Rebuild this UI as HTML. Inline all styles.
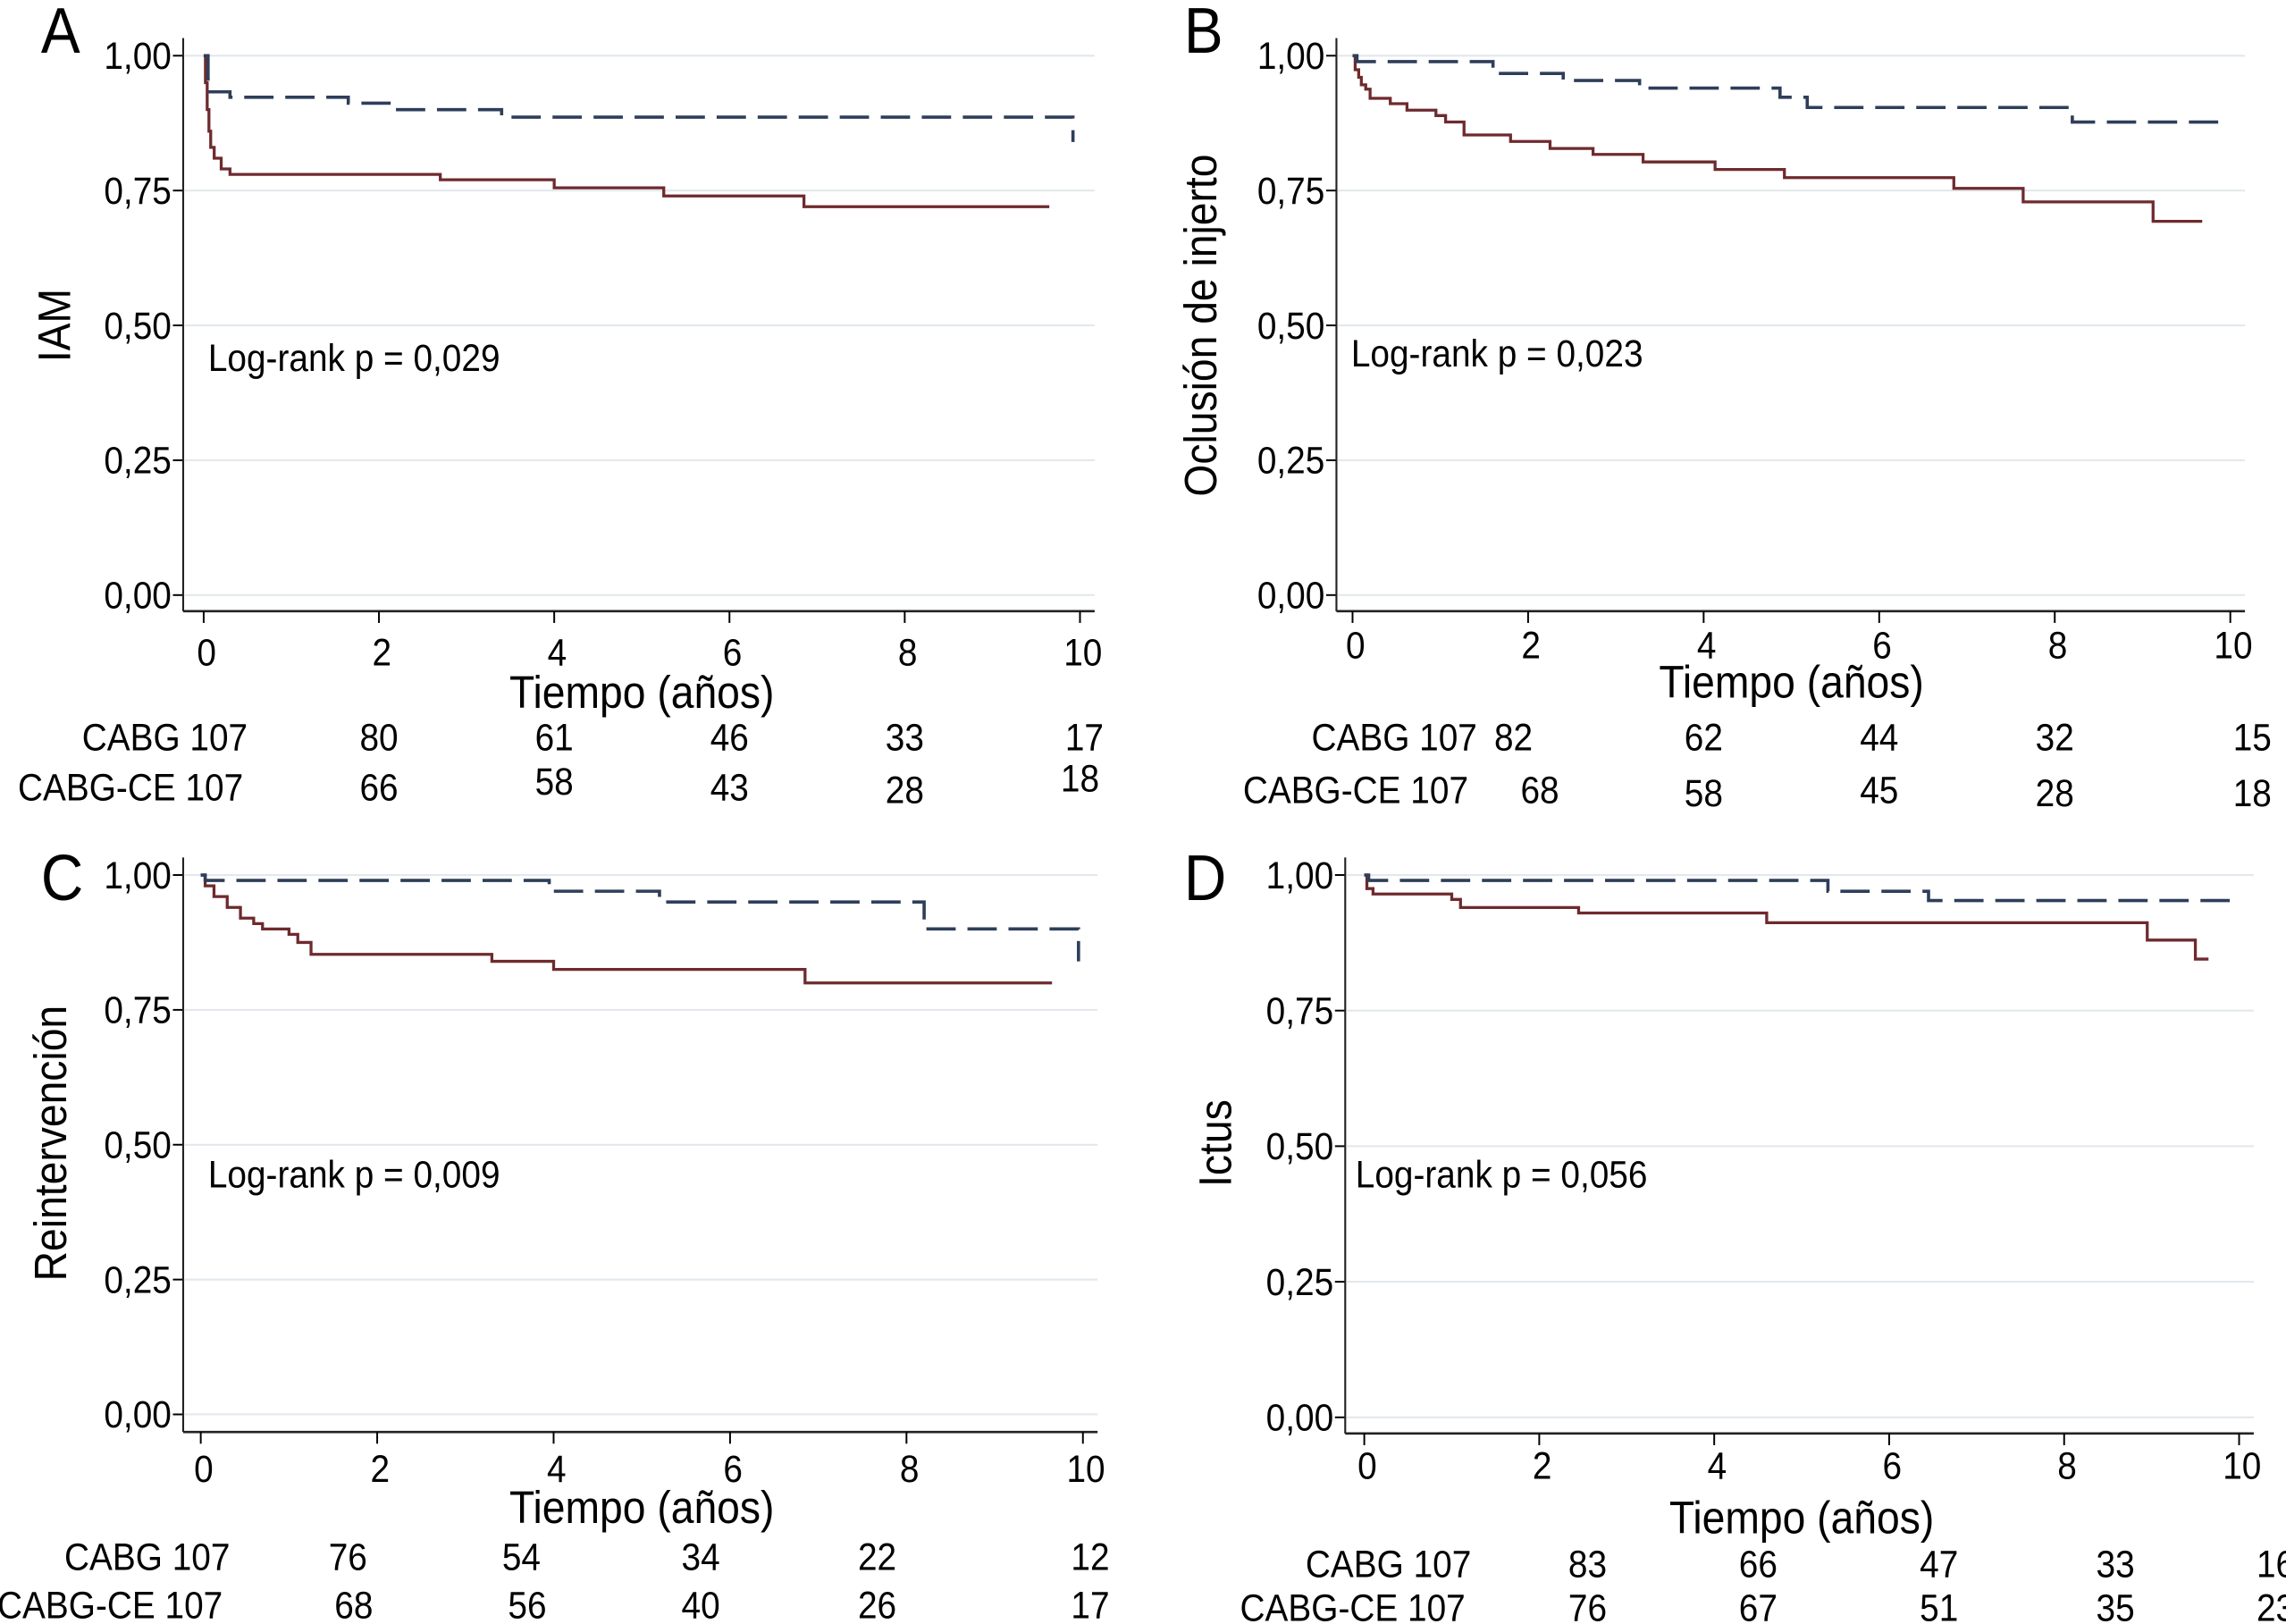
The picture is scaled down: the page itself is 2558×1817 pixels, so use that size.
<!DOCTYPE html>
<html><head><meta charset="utf-8">
<style>
html,body{margin:0;padding:0;background:#fff;}
svg{display:block;}
text{font-family:"Liberation Sans Narrow","Liberation Sans",sans-serif;fill:#000;}
</style></head>
<body>
<svg id="fig" width="2558" height="1817" viewBox="0 0 1560 1108" preserveAspectRatio="none" xmlns="http://www.w3.org/2000/svg"></svg>
<script>
const yTicks = [0, 0.25, 0.5, 0.75, 1];
const yTickLabels = ["0,00","0,25","0,50","0,75","1,00"];
const xTicks = [0, 2, 4, 6, 8, 10];
const riskTimes = [2, 4, 6, 8, 10];

const aBlue = [[0,1],[0.05,0.933],[0.3,0.923],[1.65,0.912],[2.15,0.9],[3.4,0.886],[9.92,0.84]];
const aBlueEnd = 9.92;
const aRed = [[0,1],[0.02,0.95],[0.04,0.9],[0.06,0.86],[0.08,0.83],[0.12,0.81],[0.2,0.79],[0.3,0.78],[2.7,0.77],[4.0,0.755],[5.25,0.74],[6.85,0.72]];
const aRedEnd = 9.65;
const bBlue = [[0,1],[0.05,0.989],[1.6,0.967],[2.4,0.954],[3.27,0.94],[4.87,0.923],[5.18,0.904],[8.2,0.877]];
const bBlueEnd = 9.98;
const bRed = [[0,1],[0.03,0.974],[0.07,0.96],[0.1,0.946],[0.15,0.938],[0.2,0.921],[0.43,0.911],[0.62,0.899],[0.95,0.889],[1.06,0.877],[1.27,0.853],[1.8,0.841],[2.25,0.828],[2.74,0.817],[3.31,0.803],[4.13,0.789],[4.92,0.774],[6.85,0.754],[7.64,0.729],[9.12,0.693]];
const bRedEnd = 9.68;
const cBlue = [[0,1],[0.05,0.99],[3.95,0.97],[5.2,0.95],[8.2,0.9],[9.95,0.84]];
const cBlueEnd = 9.95;
const cRed = [[0,1],[0.05,0.98],[0.15,0.96],[0.3,0.94],[0.45,0.92],[0.6,0.91],[0.7,0.9],[1.0,0.89],[1.1,0.875],[1.25,0.853],[3.3,0.84],[4.0,0.825],[6.85,0.8]];
const cRedEnd = 9.65;
const dBlue = [[0,1],[0.05,0.99],[5.3,0.97],[6.45,0.953]];
const dBlueEnd = 9.97;
const dRed = [[0,1],[0.03,0.975],[0.1,0.965],[1.0,0.955],[1.1,0.94],[2.45,0.93],[4.6,0.912],[8.95,0.88],[9.5,0.845]];
const dRedEnd = 9.65;

const aRiskCABG = [80,61,46,33,17];
const aRiskCE = [66,58,43,28,18];
const bRiskCABG = [82,62,44,32,15];
const bRiskCE = [68,58,45,28,18];
const cRiskCABG = [76,54,34,22,12];
const cRiskCE = [68,56,40,26,17];
const dRiskCABG = [83,66,47,33,16];
const dRiskCE = [76,67,51,35,23];

const NS = "http://www.w3.org/2000/svg";
const svg = document.getElementById('fig');
const SX = 0.91;
function el(tag, attrs, parent, txt){
  const e = document.createElementNS(NS, tag);
  for (const k in attrs) e.setAttribute(k, attrs[k]);
  if (txt !== undefined) e.textContent = txt;
  (parent || svg).appendChild(e);
  return e;
}
function txt(x, y, size, anchor, s, parent){
  return el('text', {x:x/SX, y:y, 'font-size':size, 'text-anchor':anchor, transform:'scale(' + SX + ',1)'}, parent, s);
}

const panels = [
  {id:'a', letter:'A', lx:28, ly:36, ax:125, x0:139, x10:737, y1:38, y0:406, xAxisY:417, tickLblY:454, titleY:483, ytitle:'IAM', ytx:48, yty:222,
   lr:'Log-rank p = 0,029', lrx:142, lry:253, blue:aBlue, blueEnd:aBlueEnd, red:aRed, redEnd:aRedEnd,
   r1lab:169, r1y:512, r2lab:166, r2y:546, r1:aRiskCABG, r2:aRiskCE, r1dx:[0,0,0,0,3], r2dy:[0,-4,0,2,-6], r2dx:[0,0,0,0,0]},
  {id:'b', letter:'B', lx:808, ly:36, ax:912, x0:923, x10:1522, y1:38, y0:406, xAxisY:417, tickLblY:449, titleY:476, ytitle:'Oclusión de injerto', ytx:830, yty:222,
   lr:'Log-rank p = 0,023', lrx:922, lry:250, blue:bBlue, blueEnd:bBlueEnd, red:bRed, redEnd:bRedEnd,
   r1lab:1008, r1y:512, r2lab:1002, r2y:548, r1:bRiskCABG, r2:bRiskCE, r1dx:[-10,0,0,0,15], r2dx:[8,0,0,0,15], r2dy:[0,2,0,2,2]},
  {id:'c', letter:'C', lx:28, ly:614, ax:125, x0:137, x10:739, y1:597, y0:965, xAxisY:977, tickLblY:1011, titleY:1039, ytitle:'Reintervención', ytx:45, yty:780,
   lr:'Log-rank p = 0,009', lrx:142, lry:810, blue:cBlue, blueEnd:cBlueEnd, red:cRed, redEnd:cRedEnd,
   r1lab:157, r1y:1071, r2lab:152, r2y:1104, r1:cRiskCABG, r2:cRiskCE, r1dx:[-20,-22,-20,-20,5], r2dx:[-16,-18,-20,-20,5], r2dy:[0,0,0,0,0]},
  {id:'d', letter:'D', lx:808, ly:614, ax:918, x0:931, x10:1528, y1:597, y0:967, xAxisY:978, tickLblY:1009, titleY:1046, ytitle:'Ictus', ytx:840, yty:780,
   lr:'Log-rank p = 0,056', lrx:925, lry:810, blue:dBlue, blueEnd:dBlueEnd, red:dRed, redEnd:dRedEnd,
   r1lab:1004, r1y:1076, r2lab:1000, r2y:1106, r1:dRiskCABG, r2:dRiskCE, r1dx:[33,30,34,35,25], r2dx:[33,30,34,35,25], r2dy:[0,0,0,0,0]}
];

function stepPath(pts, end, xs, ys){
  let d = 'M' + xs(pts[0][0]) + ',' + ys(pts[0][1]);
  for (let i = 1; i < pts.length; i++){
    d += ' H' + xs(pts[i][0]) + ' V' + ys(pts[i][1]);
  }
  d += ' H' + xs(end);
  return d;
}

panels.forEach(p => {
  const g = el('g', {});
  
  
  const xs = t => p.x0 + (p.x10 - p.x0) * t / 10;
  const ys = v => p.y0 + (p.y1 - p.y0) * v;

  const L = txt(p.lx, p.ly, 44, 'start', p.letter, g);
  
  

  yTicks.forEach((v, i) => {
    const gl = el('line', {x1:p.ax+1, x2:p.x10+10, y1:ys(v), y2:ys(v), stroke:'#e3e8ec', 'stroke-width':1.3}, g);
    
    
    const tk = el('line', {x1:p.ax-7, x2:p.ax, y1:ys(v), y2:ys(v), stroke:'#000', 'stroke-width':1.2}, g);
    
    
    const tl = txt(p.ax-8, ys(v)+9, 26, 'end', yTickLabels[i], g);
    
    
  });
  const yax = el('line', {x1:p.ax, x2:p.ax, y1:p.y1-12, y2:p.xAxisY, stroke:'#222', 'stroke-width':1.3}, g);
  
  
  const xax = el('line', {x1:p.ax, x2:p.x10+10, y1:p.xAxisY, y2:p.xAxisY, stroke:'#222', 'stroke-width':1.6}, g);
  
  
  xTicks.forEach(t => {
    const tk = el('line', {x1:xs(t), x2:xs(t), y1:p.xAxisY, y2:p.xAxisY+8, stroke:'#000', 'stroke-width':1.2}, g);
    
    
    const tl = txt(xs(t)+2, p.tickLblY, 26, 'middle', String(t), g);
    
    
  });
  const xt = txt((p.x0+p.x10)/2, p.titleY, 31, 'middle', 'Tiempo (años)', g);
  
  
  const yt = el('text', {x:0, y:0, 'font-size':31, 'text-anchor':'middle', transform:'translate(' + p.ytx + ',' + p.yty + ') rotate(-90) scale(' + SX + ',1)'}, g, p.ytitle);
  
  
  const lr = txt(p.lrx, p.lry, 26, 'start', p.lr, g);
  
  

  const red = el('path', {d:stepPath(p.red, p.redEnd, xs, ys), fill:'none', stroke:'#6e2a2e', 'stroke-width':2}, g);
  
  
  const blue = el('path', {d:stepPath(p.blue, p.blueEnd, xs, ys), fill:'none', stroke:'#2e3e5a', 'stroke-width':2.2, 'stroke-dasharray':'20,8'}, g);
  
  

  const r1l = txt(p.r1lab, p.r1y, 26, 'end', 'CABG 107', g);
  
  
  const r2l = txt(p.r2lab, p.r2y, 26, 'end', 'CABG-CE 107', g);
  
  
  riskTimes.forEach((t, i) => {
    const a = txt(xs(t)+p.r1dx[i], p.r1y, 26, 'middle', String(p.r1[i]), g);
    
    
    const b = txt(xs(t)+p.r2dx[i], p.r2y+p.r2dy[i], 26, 'middle', String(p.r2[i]), g);
    
    
  });
});
</script>
</body></html>
